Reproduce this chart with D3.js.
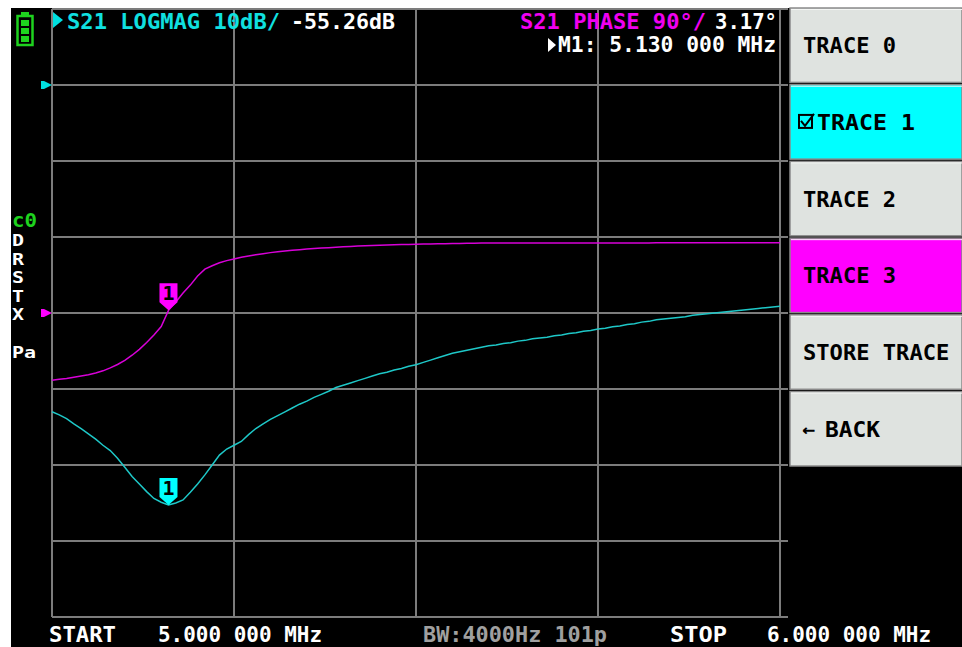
<!DOCTYPE html>
<html>
<head>
<meta charset="utf-8">
<script src="https://cdn.jsdelivr.net/npm/d3@7"></script>
<style>
  body { margin: 0; background: #fff; }
  svg { display: block; }
  text { font-family: "DejaVu Sans Mono", monospace; font-weight: bold; }
</style>
</head>
<body>
<svg width="962" height="647"></svg>
<script>
// S21 logmag (dB), 101 sweep points 5.0 -> 6.0 MHz
const s21LogMag = [
  -43.0, -43.4, -43.9, -44.6, -45.2, -45.9, -46.6, -47.4, -48.1, -49.1,
  -50.3, -51.5, -52.5, -53.5, -54.4, -54.9, -55.26, -55.0, -54.6, -53.6,
  -52.5, -51.3, -50.0, -48.7, -47.9, -47.4, -46.9, -46.0, -45.2, -44.6,
  -44.0, -43.5, -43.0, -42.5, -42.0, -41.6, -41.1, -40.7, -40.3, -39.8,
  -39.5, -39.2, -38.9, -38.6, -38.3, -38.0, -37.8, -37.5, -37.3, -37.0,
  -36.8, -36.5, -36.2, -35.9, -35.6, -35.3, -35.1, -34.9, -34.7, -34.5,
  -34.3, -34.2, -34.0, -33.9, -33.7, -33.6, -33.4, -33.3, -33.2, -33.0,
  -32.9, -32.7, -32.6, -32.4, -32.3, -32.1, -32.0, -31.8, -31.7, -31.5,
  -31.4, -31.2, -31.1, -30.9, -30.8, -30.7, -30.6, -30.5, -30.3, -30.2,
  -30.1, -30.0, -29.9, -29.8, -29.7, -29.6, -29.5, -29.4, -29.3, -29.2,
  -29.1
];
// S21 phase (deg)
const s21Phase = [
  -79.5, -78.5, -77.5, -76.0, -74.5, -73.0, -71.0, -68.5, -65.0, -61.0,
  -56.0, -50.0, -43.0, -35.0, -26.0, -16.0, 3.17, 13.0, 23.7, 33.0,
  43.8, 52.0, 56.0, 59.5, 62.0, 64.0, 66.0, 67.5, 69.0, 70.3,
  71.5, 72.5, 73.5, 74.3, 75.0, 75.7, 76.3, 76.9, 77.4, 77.9,
  78.4, 78.8, 79.2, 79.6, 79.9, 80.2, 80.5, 80.8, 81.0, 81.2,
  81.4, 81.6, 81.8, 82.0, 82.1, 82.3, 82.4, 82.6, 82.7, 82.8,
  82.9, 82.9, 82.9, 82.9, 82.9, 82.9, 82.9, 82.9, 82.9, 82.9,
  82.9, 83.0, 83.0, 83.0, 83.0, 83.0, 83.0, 83.0, 83.0, 83.0,
  83.0, 83.0, 83.0, 83.1, 83.1, 83.1, 83.1, 83.1, 83.1, 83.1,
  83.1, 83.1, 83.1, 83.1, 83.1, 83.1, 83.1, 83.1, 83.1, 83.1,
  83.1
];
const markerIndex = 16;
const gridCols = [0, 1, 2, 3, 4];
const menuItems = ['TRACE 0', 'TRACE 1', 'TRACE 2', 'TRACE 3', 'STORE TRACE', 'BACK'];
const sideLetters = ['D', 'R', 'S', 'T', 'X', 'Pa'];

const svg = d3.select('svg');
const cyan = '#1ec8c8', magenta = '#d800d8';

// background
svg.append('rect').attr('x', 11).attr('y', 8).attr('width', 951).attr('height', 639).attr('fill', '#000');

// scales
const x = d3.scaleLinear().domain([0, s21LogMag.length - 1]).range([52, 780]);
const gx = d3.scaleLinear().domain([0, 4]).range([52, 780]);
const yMag = d3.scaleLinear().domain([10, -70]).range([9, 617]); // 10dB/div, ref 0dB
const yPh = d3.scaleLinear().domain([360, -360]).range([9, 617]); // 90deg/div, ref 0deg

// grid
const grid = svg.append('g').attr('stroke', '#7c7c7c').attr('stroke-width', 2);
grid.selectAll('.h').data(yMag.ticks(8)).enter().append('line')
  .attr('x1', 52).attr('x2', 788).attr('y1', d => yMag(d)).attr('y2', d => yMag(d));
grid.selectAll('.v').data(gridCols).enter().append('line')
  .attr('y1', 9).attr('y2', 617).attr('x1', d => gx(d)).attr('x2', d => gx(d));

// traces
const magLine = d3.line().x((d, i) => x(i)).y(d => yMag(d));
const phLine = d3.line().x((d, i) => x(i)).y(d => yPh(d));
svg.append('path').attr('d', phLine(s21Phase)).attr('fill', 'none').attr('stroke', magenta).attr('stroke-width', 1.5);
svg.append('path').attr('d', magLine(s21LogMag)).attr('fill', 'none').attr('stroke', cyan).attr('stroke-width', 1.5);

// markers
function marker(px, py, color) {
  const g = svg.append('g').attr('transform', `translate(${px},${py})`);
  g.append('path').attr('d', 'M-9,-27h18v19l-9,8l-9,-8z').attr('fill', color);
  g.append('text').attr('x', 0).attr('y', -10).attr('text-anchor', 'middle')
    .attr('font-size', 20).attr('fill', '#000').text('1');
}
marker(x(markerIndex), yPh(s21Phase[markerIndex]), '#ff00ff');
marker(x(markerIndex), yMag(s21LogMag[markerIndex]), '#00ffff');

// reference position arrows
function refArrow(py, color) {
  svg.append('path').attr('d', `M41,${py - 4}h3l8,4l-8,4h-3z`).attr('fill', color);
}
refArrow(yMag(0), '#00e0e0');
refArrow(yPh(0), '#ff00ff');

// battery
const bat = svg.append('g').attr('fill', '#1ed21e');
bat.append('rect').attr('x', 21).attr('y', 12).attr('width', 8).attr('height', 4);
bat.append('rect').attr('x', 17.5).attr('y', 16).attr('width', 15).attr('height', 29)
  .attr('fill', 'none').attr('stroke', '#1ed21e').attr('stroke-width', 2.5);
[20, 28, 36].forEach(by => bat.append('rect').attr('x', 21).attr('y', by).attr('width', 8).attr('height', 6));

// header
function label(t, px, py, len, color, size) {
  return svg.append('text').attr('x', px).attr('y', py).attr('font-size', size || 22)
    .attr('fill', color).attr('textLength', len).attr('lengthAdjust', 'spacingAndGlyphs').text(t);
}
// active-trace / active-marker pointers
svg.append('path').attr('d', 'M53,12l10,8l-10,8z').attr('fill', '#00e0e0');
svg.append('path').attr('d', 'M548,38l8,7l-8,7z').attr('fill', '#fff');
label('S21 LOGMAG 10dB/', 67, 29, 213, '#10e0e0');
label('-55.26dB', 291, 29, 104, '#fff');
label('S21 PHASE 90°/', 520, 29, 186, '#f000f0');
label('3.17°', 715, 29, 62, '#fff');
label('M1: 5.130 000 MHz', 558, 52, 218, '#fff');

// left side status letters
label('c0', 12, 227, 25, '#1ed21e', 19);
const sideY = [246, 264.5, 283, 301.5, 320, 358];
sideLetters.forEach((t, i) => label(t, 12, sideY[i], t.length * 12, '#fff', 15));

// footer
label('START', 49, 642, 67, '#fff');
label('5.000 000 MHz', 158, 642, 164, '#fff');
label('BW:4000Hz 101p', 423, 642, 184, '#a0a0a0');
label('STOP', 670, 642, 57, '#fff');
label('6.000 000 MHz', 767, 642, 164, '#fff');

// menu
const band = d3.scaleBand().domain(menuItems).range([8, 466]).paddingInner(0.03);
const fills = {'TRACE 1': '#00ffff', 'TRACE 3': '#ff00ff'};
const menu = svg.append('g');
menuItems.forEach(m => {
  const y0 = band(m);
  menu.append('rect').attr('x', 790).attr('y', y0).attr('width', 172).attr('height', band.bandwidth())
    .attr('fill', fills[m] || '#dfe3e0').attr('stroke', '#8a8a8a').attr('stroke-width', 1.5);
  menu.append('line').attr('x1', 791).attr('x2', 962).attr('y1', y0 + 1.5).attr('y2', y0 + 1.5)
    .attr('stroke', '#f4f6f4').attr('stroke-width', 1);
  const by = y0 + band.bandwidth() / 2 + 8;
  if (m === 'TRACE 1') {
    menu.append('rect').attr('x', 799).attr('y', by - 15).attr('width', 13).attr('height', 13)
      .attr('fill', 'none').attr('stroke', '#000').attr('stroke-width', 2);
    menu.append('path').attr('d', `M801,${by - 9}l4,5l9,-12`).attr('fill', 'none').attr('stroke', '#000').attr('stroke-width', 2);
    label(m, 817, by, 98, '#000', 21);
  } else if (m === 'BACK') {
    label('←', 802, by - 1, 13, '#000', 20);
    label(m, 825, by, 55, '#000', 21);
  } else {
    label(m, 803, by, m.length * 13.3, '#000', 21);
  }
});
</script>
</body>
</html>
